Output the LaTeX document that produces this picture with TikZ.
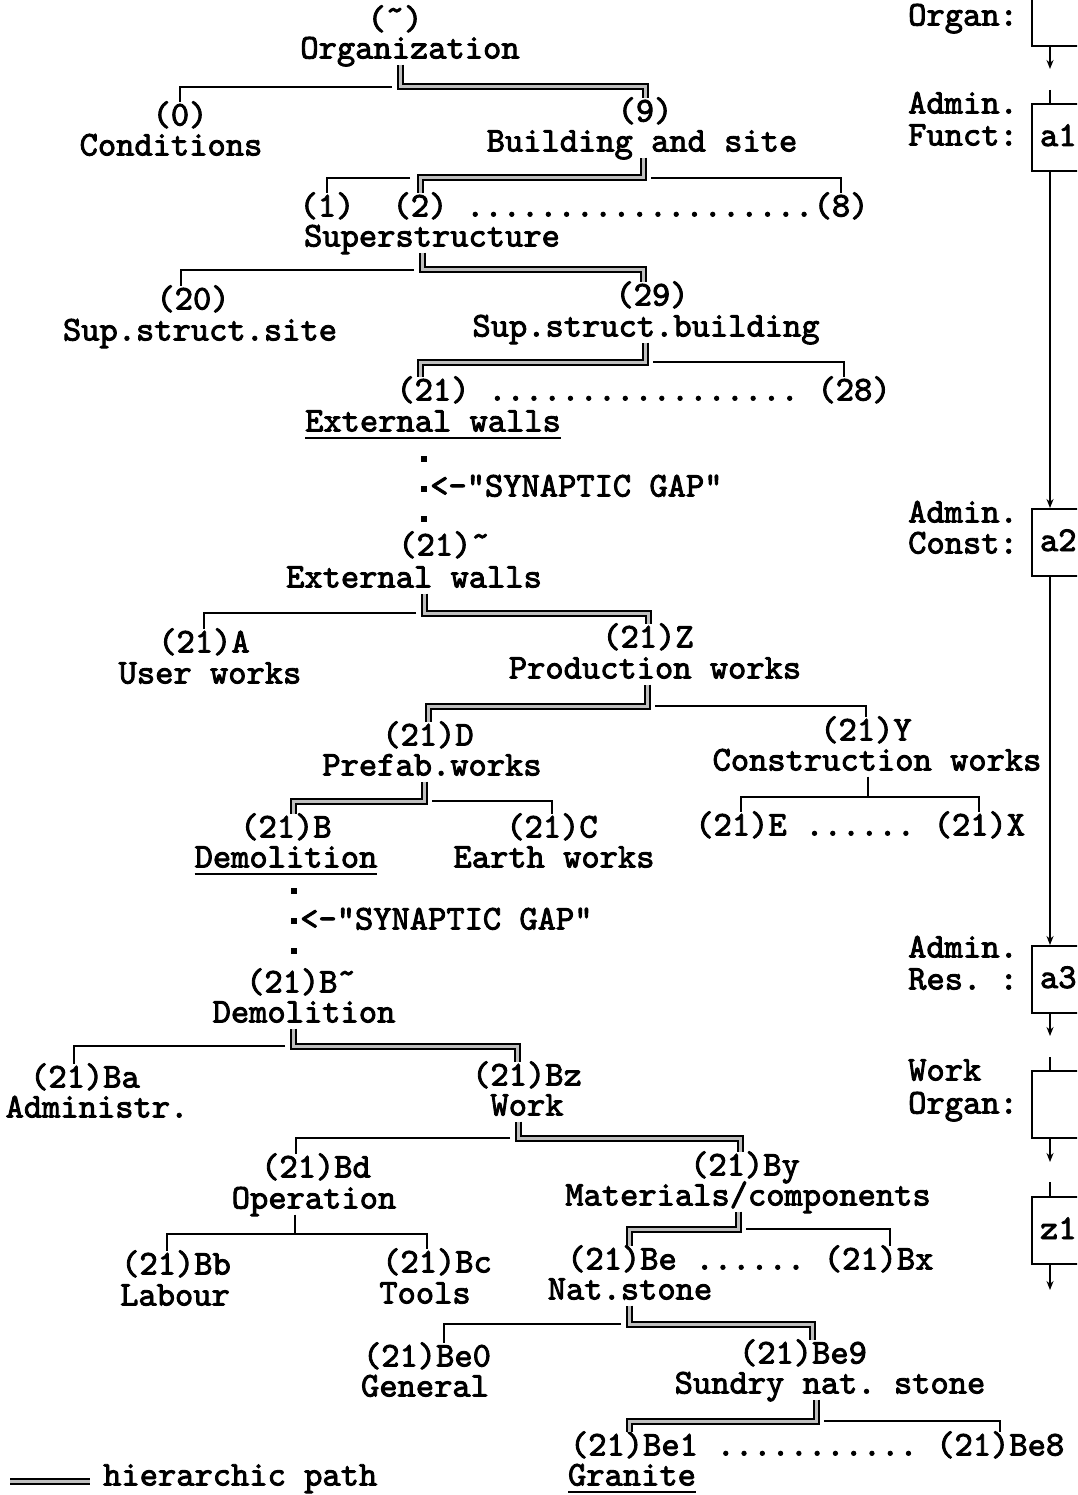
\documentclass[tikz,border=0pt]{standalone}
\usepackage{fontspec}
\setmonofont{lmmono10-regular}[Extension=.otf, FakeBold=2.5]
\newcommand{\twsize}{\ttfamily\fontsize{34.8pt}{35pt}\selectfont}
\newcommand{\tul}[1]{\setbox0\hbox{#1}\rlap{\rule[-7pt]{\wd0}{1.8pt}}\box0}
\usetikzlibrary{positioning,arrows.meta}

\begin{document}
\begin{tikzpicture}[x=1pt, y=-1pt,
    txt/.style={font=\twsize, inner sep=0pt, text height=23pt, text depth=6pt},
    lbl/.style={txt, anchor=west},
    thinpath/.style={line width=2pt},
    branch/.style={thinpath, shorten <=8pt},
    hier/.style={line width=2pt, double=black!25, double distance=3pt},
    gapline/.style={line width=6pt, dash pattern=on 6pt off 24pt},
    flowbox/.style={draw, line width=2pt, anchor=north west, minimum height=67pt,
        text width=62pt, align=left, inner xsep=8pt, inner ysep=0pt,
        font=\twsize, text height=23pt, text depth=6pt},
    arr/.style={thinpath, -{Stealth[length=9pt, width=7pt]}}
]
\useasboundingbox (0,0) rectangle (1077,1495);
\clip (0,0) rectangle (1077,1495);

% Organization down to superstructure
\node[txt] (orgc) at (395,21) {(˜)};
\node[txt] (org) at (410,50) {Organization};
\node[txt] (condc) at (180,117) {(0)};
\node[txt] (cond) at (171,147) {Conditions};
\node[txt] (bldgc) at (645,113) {(9)};
\node[txt] (bldg) at (642,143) {Building and site};
\node[txt] (c1) at (327,208) {(1)};
\node[txt] (c2) at (420,208) {(2)};
\node[txt, right=18.3pt of c2] (dotsC) {...................};
\node[txt, right=0pt of dotsC] (c8) {(8)};
\node[txt] (sup) at (432,238) {Superstructure};
\node[txt] (c20) at (193,301) {(20)};
\node[txt] (ssite) at (200,332) {Sup.struct.site};
\node[txt] (c29) at (652,297) {(29)};
\node[txt] (sbldg) at (646,328) {Sup.struct.building};
\node[txt] (c21) at (433,392) {(21)};
\node[txt, right=18.3pt of c21] (dotsE) {.................};
\node[txt, right=18.3pt of dotsE] (c28) {(28)};
\node[txt] (ewA) at (433,423) {\tul{External walls}};

% first synaptic gap
\coordinate (gapA) at (424,488);
\node[txt, right=6pt of gapA] (synA) {<-"SYNAPTIC GAP"};

% External walls down to demolition
\node[txt] (c21t) at (444,547) {(21)˜};
\node[txt] (ewB) at (414,579) {External walls};
\node[txt] (cA) at (204,644) {(21)A};
\node[txt] (user) at (210,675) {User works};
\node[txt] (cZ) at (648,639) {(21)Z};
\node[txt] (prod) at (655,670) {Production works};
\node[txt] (cD) at (428,737) {(21)D};
\node[txt] (pref) at (432,767) {Prefab.works};
\node[txt] (cY) at (866,732) {(21)Y};
\node[txt] (cons) at (877,762) {Construction works};
\node[txt] (cB) at (286,829) {(21)B};
\node[txt] (demA) at (286,859) {\tul{Demolition}};
\node[txt] (cC) at (552,829) {(21)C};
\node[txt] (earth) at (554,859) {Earth works};
\node[txt] (cE) at (741,827) {(21)E};
\node[txt, right=18.3pt of cE] (dotsY) {......};
\node[txt, right=18.3pt of dotsY] (cX) {(21)X};

% second synaptic gap
\coordinate (gapB) at (294,921);
\node[txt, right=6pt of gapB] (synB) {<-"SYNAPTIC GAP"};

% Demolition down to granite
\node[txt] (cBt) at (301,984) {(21)B˜};
\node[txt] (demB) at (304,1014) {Demolition};
\node[txt] (cBa) at (85,1079) {(21)Ba};
\node[txt] (adm) at (97,1109) {Administr.};
\node[txt] (cBz) at (527,1077) {(21)Bz};
\node[txt] (work) at (527,1107) {Work};
\node[txt] (cBd) at (316,1169) {(21)Bd};
\node[txt] (oper) at (314,1200) {Operation};
\node[txt] (cBy) at (745,1167) {(21)By};
\node[txt] (mat) at (748,1197) {Materials/components};
\node[txt] (cBb) at (176,1266) {(21)Bb};
\node[txt] (lab) at (175,1297) {Labour};
\node[txt] (cBc) at (437,1264) {(21)Bc};
\node[txt] (tools) at (425,1295) {Tools};
\node[txt] (cBe) at (622,1261) {(21)Be};
\node[txt, right=18.3pt of cBe] (dotsBe) {......};
\node[txt, right=18.3pt of dotsBe] (cBx) {(21)Bx};
\node[txt] (nat) at (630,1291) {Nat.stone};
\node[txt] (cBe0) at (427,1358) {(21)Be0};
\node[txt] (gen) at (425,1388) {General};
\node[txt] (cBe9) at (803,1355) {(21)Be9};
\node[txt] (sundry) at (830,1385) {Sundry nat. stone};
\node[txt] (cBe1) at (634,1447) {(21)Be1};
\node[txt, right=18.3pt of cBe1] (dotsSn) {...........};
\node[txt, right=18.3pt of dotsSn] (cBe8) {(21)Be8};
\node[txt] (gran) at (632,1477) {\tul{Granite}};

% brackets: single branch first, double (hierarchic) path on top
\coordinate (jOrg) at (400,87);
\draw[branch] (jOrg) -| (condc.north);
\draw[hier] (org.south -| jOrg) -- (jOrg) -| (bldgc.north);

\coordinate (jBld) at (643,178);
\coordinate (jBldL) at (420,178);
\draw[branch, shorten <=10pt] (jBldL) -| (c1.north);
\draw[branch] (jBld) -| (c8.north);
\draw[hier] (bldg.south -| jBld) -- (jBld) -| (c2.north);

\coordinate (jSup) at (422,270);
\draw[branch] (jSup) -| ([xshift=-12pt]c20.north);
\draw[hier] (sup.south -| jSup) -- (jSup) -| ([xshift=-9pt]c29.north);

\coordinate (jSb) at (645,362);
\draw[branch] (jSb) -| ([xshift=-10pt]c28.north);
\draw[hier] (sbldg.south -| jSb) -- (jSb) -| ([xshift=-13pt]c21.north);

\draw[gapline, shorten <=18.5pt, shorten >=10.5pt] (ewA.south -| gapA) -- (c21t.north -| gapA);

\coordinate (jEw) at (424,613);
\draw[branch] (jEw) -| (cA.north);
\draw[hier] (ewB.south -| jEw) -- (jEw) -| (cZ.north);

\coordinate (jPr) at (647,706);
\draw[branch] (jPr) -| (cY.north);
\draw[hier] (prod.south -| jPr) -- (jPr) -| (cD.north);

\coordinate (jPf) at (424,801);
\draw[branch] (jPf) -| (cC.north);
\draw[hier] (pref.south -| jPf) -- (jPf) -| ([xshift=7pt]cB.north);

\coordinate (jCo) at (868,797);
\draw[thinpath] (cons.south -| jCo) -- (jCo) -| (cE.north);
\draw[thinpath] (jCo) -| (cX.north);

\draw[gapline, shorten <=14.5pt, shorten >=15.5pt] (demA.south -| gapB) -- (cBt.north -| gapB);

\coordinate (jDm) at (293,1046);
\draw[branch] (jDm) -| ([xshift=-11pt]cBa.north);
\draw[hier] (demB.south -| jDm) -- (jDm) -| ([xshift=-10pt]cBz.north);

\coordinate (jWk) at (518,1138);
\draw[branch] (jWk) -| ([xshift=-20pt]cBd.north);
\draw[hier] (work.south -| jWk) -- (jWk) -| ([xshift=-5pt]cBy.north);

\coordinate (jOp) at (295,1234);
\draw[thinpath] (oper.south -| jOp) -- (jOp) -| ([xshift=-9pt]cBb.north);
\draw[thinpath] (jOp) -| ([xshift=-10pt]cBc.north);

\coordinate (jMt) at (738,1229);
\draw[branch] (jMt) -| ([xshift=11pt]cBx.north);
\draw[hier] (mat.south -| jMt) -- (jMt) -| ([xshift=7pt]cBe.north);

\coordinate (jNt) at (629,1324);
\draw[branch] (jNt) -| ([xshift=17pt]cBe0.north);
\draw[hier] (nat.south -| jNt) -- (jNt) -| ([xshift=9pt]cBe9.north);

\coordinate (jSn) at (816,1421);
\draw[branch] (jSn) -| (cBe8.north);
\draw[hier] (sundry.south -| jSn) -- (jSn) -| ([xshift=-5pt]cBe1.north);

% legend
\node[txt, anchor=west] (legtxt) at (103,1477) {hierarchic path};
\coordinate (legL) at (10,1481);
\draw[hier, shorten >=13pt] (legL) -- (legL -| legtxt.west);

% administration chain on the right
\coordinate (col) at (1050,0);
\node[flowbox, minimum height=75pt] (b0) at (1031,-30) {};
\node[flowbox] (a1) at (1031,103) {a1};
\node[flowbox] (a2) at (1031,508) {a2};
\node[flowbox] (a3) at (1031,945) {a3};
\node[flowbox] (b4) at (1031,1070) {};
\node[flowbox] (z1) at (1031,1196) {z1};

\foreach \n/\y/\t in {lOrg/17/Organ:, lAdmA/105/Admin., lFun/137/Funct:,
    lAdmB/514/Admin., lCon/545/Const:, lAdmC/949/Admin., lRes/981/Res. :,
    lWork/1072/Work, lOrgB/1105/Organ:}
  \node[lbl] (\n) at (908,\y) {\t};

\foreach \u/\v in {a1/a2, a2/a3}
  \draw[arr] (\u.south -| col) -- (\v.north -| col);
\foreach \u/\v in {b0/a1, a3/b4, b4/z1} {
  \draw[arr, shorten >=34pt] (\u.south -| col) -- (\v.north -| col);
  \draw[thinpath, shorten <=43pt] (\u.south -| col) -- (\v.north -| col);
}
\coordinate (zEnd) at (1050,1290);
\draw[arr] (z1.south -| col) -- (zEnd);
\end{tikzpicture}
\end{document}
